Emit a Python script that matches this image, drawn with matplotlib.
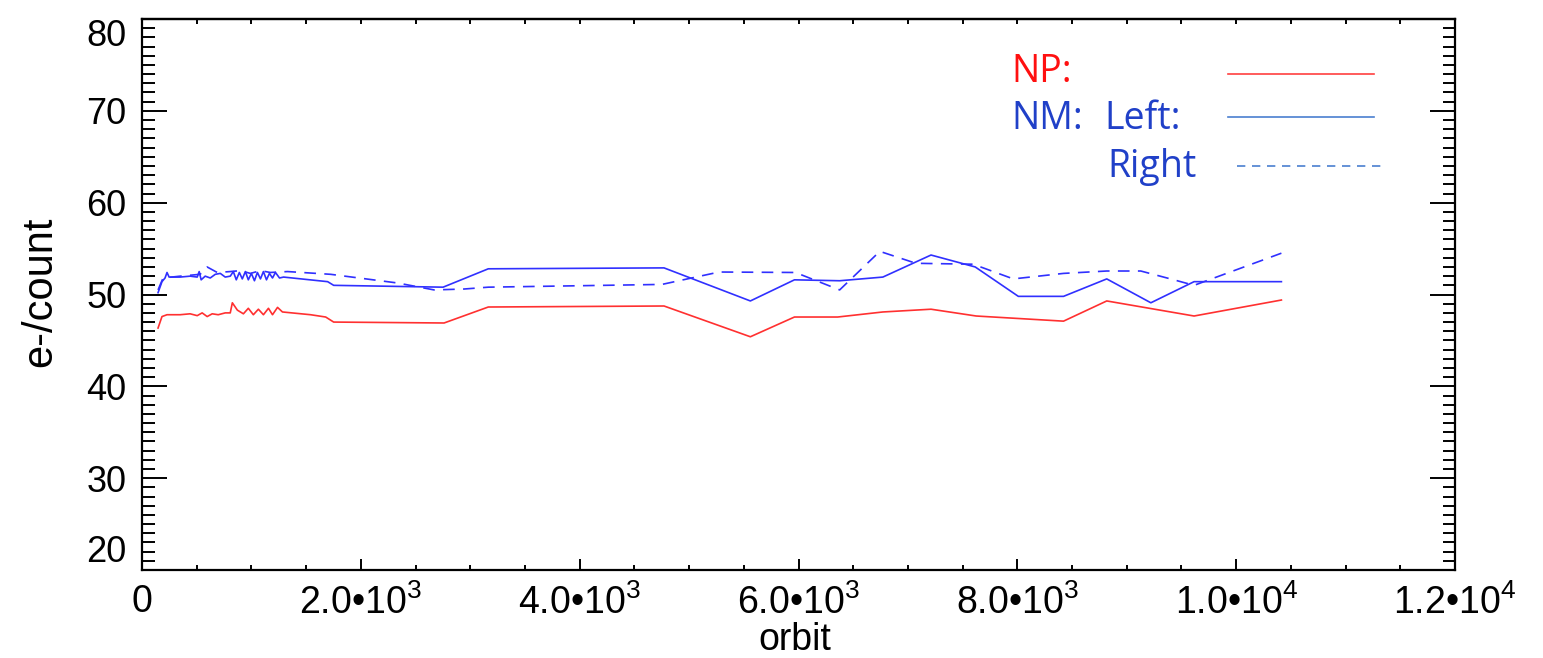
import numpy as np
import matplotlib
matplotlib.use('Agg')
import matplotlib.pyplot as plt
from matplotlib.ticker import MultipleLocator, FixedLocator
from matplotlib.lines import Line2D

plt.rcParams['font.family'] = ['Liberation Sans', 'DejaVu Sans']
plt.rcParams['mathtext.fontset'] = 'custom'
plt.rcParams['mathtext.rm'] = 'Liberation Sans'

# NP gain
np_orbit = [147, 183, 229, 349, 440, 505, 550, 596, 642, 697, 761, 807, 826, 872,
            927, 972, 1018, 1064, 1110, 1156, 1193, 1239, 1284, 1541, 1679, 1752,
            2761, 3165, 4771, 5560, 5963, 6358, 6771, 7211, 7624, 8422, 8817,
            9615, 10413]
np_gain = [46.35, 47.6, 47.8, 47.8, 47.9, 47.7, 48.0, 47.6, 47.9, 47.8, 48.0, 48.0,
           49.1, 48.3, 47.9, 48.5, 47.8, 48.4, 47.8, 48.5, 47.8, 48.6, 48.1, 47.8,
           47.55, 47.0, 46.9, 48.64, 48.75, 45.4, 47.55, 47.55, 48.1, 48.4, 47.66,
           47.1, 49.3, 47.66, 49.4]

# NM left
nml_orbit = [147, 183, 211, 229, 248, 349, 440, 505, 523, 541, 578, 624, 670, 716,
             761, 807, 835, 862, 890, 917, 945, 972, 1000, 1028, 1055, 1083, 1110,
             1138, 1165, 1193, 1220, 1257, 1294, 1697, 1752, 2752, 3165, 4771,
             5560, 5963, 6376, 6771, 7211, 7615, 8009, 8422, 8817, 9220, 9615,
             10413]
nml_gain = [50.2, 51.4, 51.8, 52.4, 51.9, 51.9, 52.0, 51.9, 52.5, 51.6, 52.0, 51.8,
            52.2, 52.3, 51.9, 52.0, 52.5, 51.6, 52.4, 51.7, 52.5, 51.6, 52.3, 51.5,
            52.4, 51.7, 52.5, 51.6, 52.3, 51.8, 52.4, 51.8, 51.9, 51.4, 51.0, 50.8,
            52.8, 52.9, 49.3, 51.6, 51.5, 51.9, 54.3, 53.0, 49.8, 49.8, 51.7, 49.1,
            51.4, 51.4]

# NM right
nmr_orbit = [147, 193, 349, 532, 596, 688, 807, 899, 991, 1083, 1174, 1330, 1725,
             2339, 2670, 2945, 3165, 4752, 5275, 5972, 6376, 6743, 7073, 7596,
             7963, 8422, 8817, 9128, 9431, 9615, 10413]
nmr_gain = [50.5, 51.8, 52.0, 52.2, 53.0, 52.4, 52.5, 52.6, 52.3, 52.6, 52.4, 52.5,
            52.2, 51.25, 50.5, 50.6, 50.8, 51.1, 52.45, 52.4, 50.5, 54.7, 53.4,
            53.3, 51.7, 52.3, 52.56, 52.56, 51.6, 51.0, 54.5]

xticks = [0, 2000, 4000, 6000, 8000, 10000, 12000]
xticklabels = ['0', r'2.0•10$^3$', r'4.0•10$^3$', r'6.0•10$^3$', r'8.0•10$^3$',
               r'1.0•10$^4$', r'1.2•10$^4$']
yticks = [20, 30, 40, 50, 60, 70, 80]

red = '#ff3030'
blue = '#3030ff'
txt_blue = '#2040c8'
key_blue = '#4a7fd0'

fig = plt.figure(figsize=(15.43, 6.58), dpi=100)
ax = fig.add_axes([0.092, 0.1337, 0.851, 0.8374])

ax.plot(np_orbit, np_gain, color=red, lw=1.2)
ax.plot(nml_orbit, nml_gain, color=blue, lw=1.2)
ax.plot(nmr_orbit, nmr_gain, color=blue, lw=1.2, ls=(0, (7, 5)))

ax.set_xlim(0, 12000)
ax.set_ylim(20, 80)

for s in ax.spines.values():
    s.set_linewidth(1.6)

ax.xaxis.set_major_locator(FixedLocator(xticks))
ax.xaxis.set_minor_locator(MultipleLocator(500))
ax.set_xticklabels(xticklabels)
ax.yaxis.set_major_locator(FixedLocator(yticks))
ax.yaxis.set_minor_locator(MultipleLocator(1))

ax.tick_params(axis='x', which='major', direction='in', length=8, width=1.4,
               labelsize=27, pad=10, top=False)
ax.tick_params(axis='x', which='minor', direction='in', length=3.6, width=1.4,
               top=False)
ax.tick_params(axis='y', which='major', direction='in', length=18, width=1.4,
               labelsize=26, pad=11, right=True)
ax.tick_params(axis='y', which='minor', direction='in', length=9, width=1.4,
               right=True)

# short ticks along the top edge
top = ax.secondary_xaxis('top')
top.xaxis.set_major_locator(FixedLocator(xticks))
top.xaxis.set_minor_locator(MultipleLocator(500))
top.tick_params(which='both', direction='in', length=3.6, width=1.4,
                labeltop=False)
top.spines['top'].set_linewidth(1.6)

ylabs = ax.get_yticklabels()
ylabs[0].set_va('bottom')
ylabs[-1].set_va('top')

fig.text(40 / 1543, 1 - 292 / 658, 'e-/count', rotation=90, ha='center',
         va='center', fontsize=30)
fig.text(795 / 1543, 1 - 640 / 658, 'orbit', ha='center', va='center',
         fontsize=27)

# key
kf = 'Open Sans'
ks = 27
ax.text(0.662, 0.886, 'NP:', color='#ff1010', fontsize=ks, family=kf,
        transform=ax.transAxes, va='baseline')
ax.text(0.662, 0.800, 'NM:', color=txt_blue, fontsize=ks, family=kf,
        transform=ax.transAxes, va='baseline')
ax.text(0.733, 0.800, 'Left:', color=txt_blue, fontsize=ks, family=kf,
        transform=ax.transAxes, va='baseline')
ax.text(0.735, 0.713, 'Right', color=txt_blue, fontsize=ks, family=kf,
        transform=ax.transAxes, va='baseline')
ax.add_line(Line2D([0.827, 0.938], [0.900, 0.900], color='#ff4040', lw=1.2,
                   transform=ax.transAxes))
ax.add_line(Line2D([0.827, 0.938], [0.822, 0.822], color=key_blue, lw=1.2,
                   transform=ax.transAxes))
ax.add_line(Line2D([0.834, 0.944], [0.733, 0.733], color=key_blue, lw=1.2,
                   ls=(0, (5, 4)), transform=ax.transAxes))

fig.savefig('out.png', dpi=100)
